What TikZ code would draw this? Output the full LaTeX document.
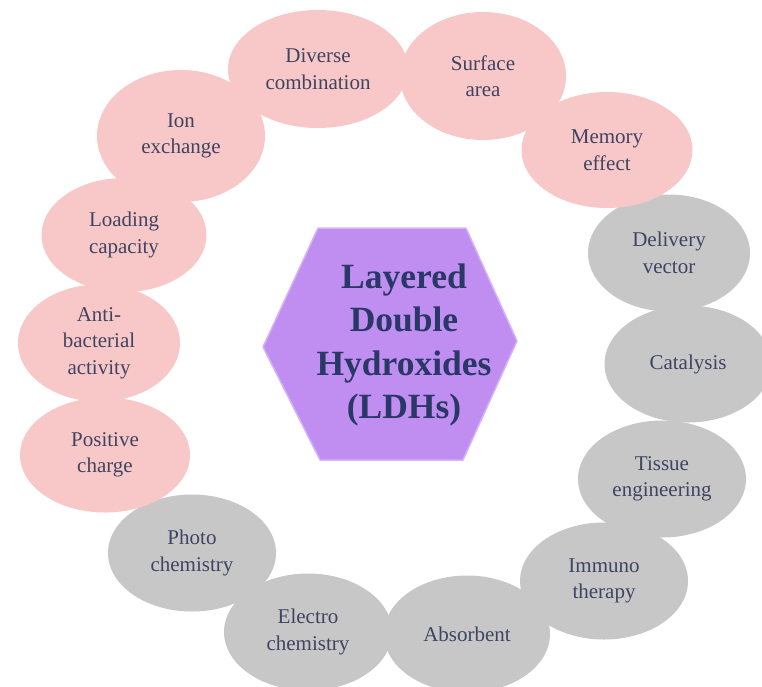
\documentclass[tikz,border=0pt]{standalone}
\usepackage{fontspec}
\setmainfont{Liberation Serif}
\usetikzlibrary{shapes.geometric}

\definecolor{blobpink}{RGB}{248,199,199}
\definecolor{blobgray}{RGB}{199,199,199}
\definecolor{hexfill}{RGB}{191,142,240}
\definecolor{hexedge}{RGB}{214,178,248}
\definecolor{blobtext}{RGB}{62,68,98}
\definecolor{hextext}{RGB}{42,56,104}

\tikzset{
  blob/.style={ellipse, draw=none, inner sep=0pt, align=center,
    minimum width=168pt, minimum height=117pt, text=blobtext,
    font=\fontsize{21}{26.5}\selectfont},
  pinkblob/.style={blob, fill=blobpink},
  grayblob/.style={blob, fill=blobgray},
}

\begin{document}
\begin{tikzpicture}[x=1pt, y=-1pt]
	\useasboundingbox (0,0) rectangle (762,686);

	% Applications (gray ring)
	\node[grayblob, minimum width=162pt] (delivery) at (669,253) {Delivery\\vector};
	\node[grayblob, minimum width=167pt] (catalysis) at (688,364) {Catalysis};
	\node[grayblob] (tissue) at (662,479) {Tissue\\engineering};
	\node[grayblob] (immuno) at (604,581) {Immuno\\therapy};
	\node[grayblob, minimum width=166pt] (absorbent) at (467,634) {Absorbent};
	\node[grayblob] (electro) at (308,632) {Electro\\chemistry};
	\node[grayblob] (photo) at (192,553) {Photo\\chemistry};

	% Properties (pink ring)
	\node[pinkblob, minimum width=170pt, minimum height=115pt] (positive) at (105,455) {Positive\\charge};
	\node[pinkblob, minimum width=162pt] (antibact) at (99,343) {Anti-\\bacterial\\activity};
	\node[pinkblob, minimum width=165pt, minimum height=114pt] (loading) at (124,235) {Loading\\capacity};
	\node[pinkblob, minimum height=132pt] (ion) at (181,136) {Ion\\exchange};
	\node[pinkblob, minimum width=180pt, minimum height=118pt] (diverse) at (318,69) {Diverse\\combination};
	\node[pinkblob, minimum width=166pt, minimum height=128pt] (surface) at (483,76) {Surface\\area};
	\node[pinkblob, minimum width=171pt, minimum height=116pt] (memory) at (607,150) {Memory\\effect};

	% Centre hexagon
	\draw[fill=hexfill, draw=hexedge, line width=1.5pt, line join=round]
		(318,228) -- (466,228) -- (517,341) -- (463,460) -- (320,460) -- (263,347) -- cycle;
	\node[align=center, text=hextext, font=\fontsize{35.5}{43.5}\selectfont\bfseries] (ldh) at (404,345)
		{Layered\\Double\\Hydroxides\\(LDHs)};
\end{tikzpicture}
\end{document}
